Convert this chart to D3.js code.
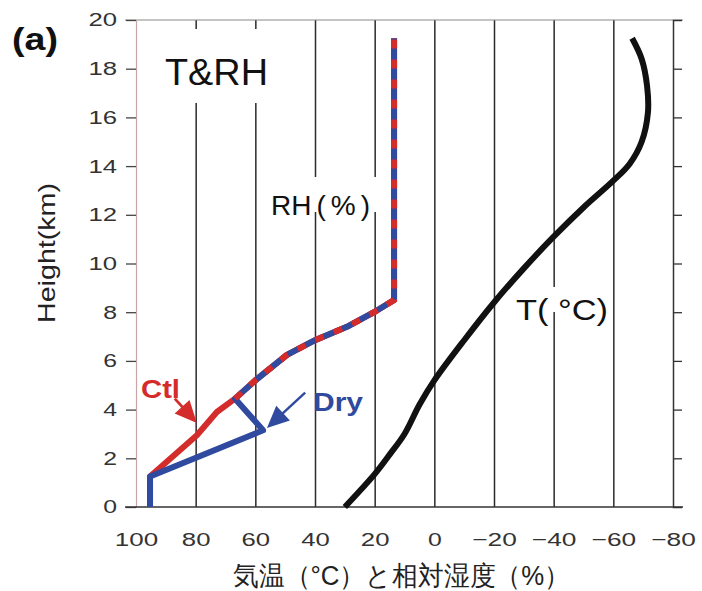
<!DOCTYPE html>
<html>
<head>
<meta charset="utf-8">
<script src="https://cdn.jsdelivr.net/npm/d3@7"></script>
<style>
  body { margin: 0; background: #fff; }
  svg { display: block; }
  text { font-family: "Liberation Sans", Arial, sans-serif; }
</style>
</head>
<body>
<svg id="chart" width="702" height="591"></svg>
<script>
// Axis ticks
const heightTicks = [0, 2, 4, 6, 8, 10, 12, 14, 16, 18, 20];
const xTicks = [100, 80, 60, 40, 20, 0, -20, -40, -60, -80];
const gridValues = [80, 60, 40, 20, 0, -20, -40, -60];

// Relative humidity profiles: [RH (%), height (km)]
const ctlProfile = [
  [95.3, 0], [95.3, 1.25], [79.6, 2.95], [72.9, 3.9], [66.8, 4.45],
  [60, 5.2], [49.4, 6.25], [40, 6.85], [29.3, 7.4], [20.2, 8.0],
  [13.5, 8.5], [13.5, 19.25]
];
const dryProfile = [
  [95.3, 0], [95.3, 1.25], [57.4, 3.15], [66.8, 4.45],
  [60, 5.2], [49.4, 6.25], [40, 6.85], [29.3, 7.4], [20.2, 8.0],
  [13.5, 8.5], [13.5, 19.25]
];
const sharedFrom = 4.45; // km: above this level Ctl and Dry coincide

// Temperature profile: [T (°C), height (km)]
const tempProfile = [
  [30, 0], [20, 1.35], [15, 2.15], [10, 3.0], [5, 4.2], [0, 5.2],
  [-10, 6.85], [-20, 8.4], [-30, 9.8], [-40, 11.1], [-50, 12.3],
  [-60, 13.4], [-65.5, 14.1], [-69.5, 15.0], [-71.6, 16.2], [-71.3, 17.3],
  [-69.5, 18.4], [-66.3, 19.25]
];

// Pointer arrows for the curve labels: [tail, tip] in data units
const ctlArrow = [[87, 4.45], [79.6, 3.45]];
const dryArrow = [[43.3, 4.7], [56.1, 3.24]];

const RED = "#d42b2b";
const BLUE = "#2f4a9e";

const svg = d3.select("#chart");
const L = 136, R = 673, T = 20, B = 507;

const x = d3.scaleLinear().domain([100, -80]).range([L, R]);
const y = d3.scaleLinear().domain([0, 20]).range([B, T]);

const numLen = s => {
  const digits = s.replace(/[^0-9]/g, "").length;
  const neg = /[−-]/.test(s) ? 16 : 0;
  return digits * 14.8 - 1 + neg;
};

// Vertical grid lines
svg.append("g")
  .attr("transform", `translate(0,${T})`)
  .call(d3.axisTop(x).tickValues(gridValues).tickSize(-(B - T)).tickFormat(""))
  .call(g => g.select(".domain").remove())
  .call(g => g.selectAll("line").attr("stroke", "#2a2a2a").attr("stroke-width", 1.5));

// Top border
svg.append("line")
  .attr("x1", L - 11).attr("x2", R + 10).attr("y1", T).attr("y2", T)
  .attr("stroke", "#8a8a8a").attr("stroke-width", 1.2);

// Left axis
svg.append("g")
  .attr("transform", `translate(${L},0)`)
  .call(d3.axisLeft(y).tickValues(heightTicks).tickSize(10).tickPadding(9))
  .call(g => g.select(".domain").attr("stroke", "#c9a6a6").attr("stroke-width", 1.2))
  .call(g => g.selectAll(".tick line").attr("stroke", "#444").attr("stroke-width", 1.3))
  .call(g => g.selectAll(".tick text")
    .attr("font-size", 18.5).attr("fill", "#333")
    .attr("font-family", "'Liberation Sans', Arial, sans-serif")
    .attr("textLength", function () { return numLen(this.textContent); })
    .attr("lengthAdjust", "spacingAndGlyphs"));

// Right axis
svg.append("g")
  .attr("transform", `translate(${R},0)`)
  .call(d3.axisRight(y).tickValues(heightTicks.slice(1, -1)).tickSize(9).tickFormat(""))
  .call(g => g.select(".domain").attr("stroke", "#333").attr("stroke-width", 1.5))
  .call(g => g.selectAll(".tick line").attr("stroke", "#333").attr("stroke-width", 1.3));

// Bottom axis
svg.append("g")
  .attr("transform", `translate(0,${B})`)
  .call(d3.axisBottom(x).tickValues(xTicks).tickSize(0).tickPadding(26))
  .call(g => g.select(".domain").remove())
  .call(g => g.selectAll(".tick text")
    .attr("font-size", 18.5).attr("fill", "#333")
    .attr("font-family", "'Liberation Sans', Arial, sans-serif")
    .attr("textLength", function () { return numLen(this.textContent); })
    .attr("lengthAdjust", "spacingAndGlyphs"));

svg.append("line")
  .attr("x1", L - 11).attr("x2", R + 10).attr("y1", B).attr("y2", B)
  .attr("stroke", "#333").attr("stroke-width", 1.5);

// Opaque label boxes interrupt the grid lines
const boxes = [
  [160, 29, 112, 74],   // T&RH
  [266, 177, 112, 35],  // RH(%)
  [505, 287, 102, 25]   // T(°C)
];
svg.append("g").selectAll("rect").data(boxes).join("rect")
  .attr("x", d => d[0]).attr("y", d => d[1])
  .attr("width", d => d[2]).attr("height", d => d[3])
  .attr("fill", "#fff");

// Curves
const line = d3.line().x(d => x(d[0])).y(d => y(d[1]));
const smooth = d3.line().x(d => x(d[0])).y(d => y(d[1])).curve(d3.curveCatmullRom.alpha(0.5));

svg.append("path").datum(ctlProfile).attr("d", line)
  .attr("fill", "none").attr("stroke", RED).attr("stroke-width", 6)
  .attr("stroke-linejoin", "round");
svg.append("path").datum(dryProfile).attr("d", line)
  .attr("fill", "none").attr("stroke", BLUE).attr("stroke-width", 6)
  .attr("stroke-linejoin", "round");
svg.append("path").datum(ctlProfile.filter(d => d[1] >= sharedFrom)).attr("d", line)
  .attr("fill", "none").attr("stroke", RED).attr("stroke-width", 6)
  .attr("stroke-dasharray", "9,11");

svg.append("path").datum(tempProfile).attr("d", smooth)
  .attr("fill", "none").attr("stroke", "#111").attr("stroke-width", 6)
  .attr("stroke-linejoin", "round");

// Arrows
function arrow(pts, color, shaftW, headLen, headHalf) {
  const x1 = x(pts[0][0]), y1 = y(pts[0][1]);
  const x2 = x(pts[1][0]), y2 = y(pts[1][1]);
  const dx = x2 - x1, dy = y2 - y1, len = Math.hypot(dx, dy);
  const ux = dx / len, uy = dy / len;
  const bx = x2 - ux * headLen, by = y2 - uy * headLen;
  svg.append("line")
    .attr("x1", x1).attr("y1", y1).attr("x2", bx + ux * 2).attr("y2", by + uy * 2)
    .attr("stroke", color).attr("stroke-width", shaftW);
  svg.append("polygon")
    .attr("points", [[x2, y2], [bx - uy * headHalf, by + ux * headHalf], [bx + uy * headHalf, by - ux * headHalf]].map(p => p.join(",")).join(" "))
    .attr("fill", color);
}
arrow(ctlArrow, RED, 2.8, 22, 10);
arrow(dryArrow, BLUE, 2.4, 22, 10);

// Text labels
svg.append("text").attr("x", 12).attr("y", 50)
  .attr("font-size", 32).attr("font-weight", "bold").attr("fill", "#111")
  .attr("textLength", 46).attr("lengthAdjust", "spacingAndGlyphs")
  .text("(a)");

svg.append("text").attr("x", 165).attr("y", 85)
  .attr("font-size", 36).attr("fill", "#111")
  .attr("textLength", 103).attr("lengthAdjust", "spacingAndGlyphs")
  .text("T&RH");

const rhLabel = svg.append("text").attr("x", 271).attr("y", 215)
  .attr("font-size", 28).attr("fill", "#111");
rhLabel.append("tspan").text("RH");
rhLabel.append("tspan").attr("dx", 5).attr("letter-spacing", 5).text("(%)");

svg.append("text").attr("x", 516).attr("y", 320)
  .attr("font-size", 29).attr("fill", "#111")
  .attr("textLength", 92).attr("lengthAdjust", "spacingAndGlyphs")
  .text("T(  °C)");

svg.append("text").attr("x", 141).attr("y", 398)
  .attr("font-size", 25).attr("font-weight", "bold").attr("fill", RED)
  .attr("textLength", 39).attr("lengthAdjust", "spacingAndGlyphs")
  .text("Ctl");

svg.append("text").attr("x", 313).attr("y", 411)
  .attr("font-size", 25).attr("font-weight", "bold").attr("fill", BLUE)
  .attr("textLength", 50).attr("lengthAdjust", "spacingAndGlyphs")
  .text("Dry");

// Axis titles
svg.append("text")
  .attr("transform", "translate(55,253) rotate(-90)")
  .attr("text-anchor", "middle")
  .attr("font-size", 24).attr("fill", "#222")
  .attr("textLength", 140).attr("lengthAdjust", "spacingAndGlyphs")
  .text("Height(km)");

svg.append("text")
  .attr("x", 401.5).attr("y", 585)
  .attr("text-anchor", "middle")
  .attr("font-family", "'Noto Sans CJK JP', sans-serif")
  .attr("font-size", 27).attr("fill", "#222")
  .attr("textLength", 337).attr("lengthAdjust", "spacingAndGlyphs")
  .text("気温（°C）と相対湿度（%）");
</script>
</body>
</html>
